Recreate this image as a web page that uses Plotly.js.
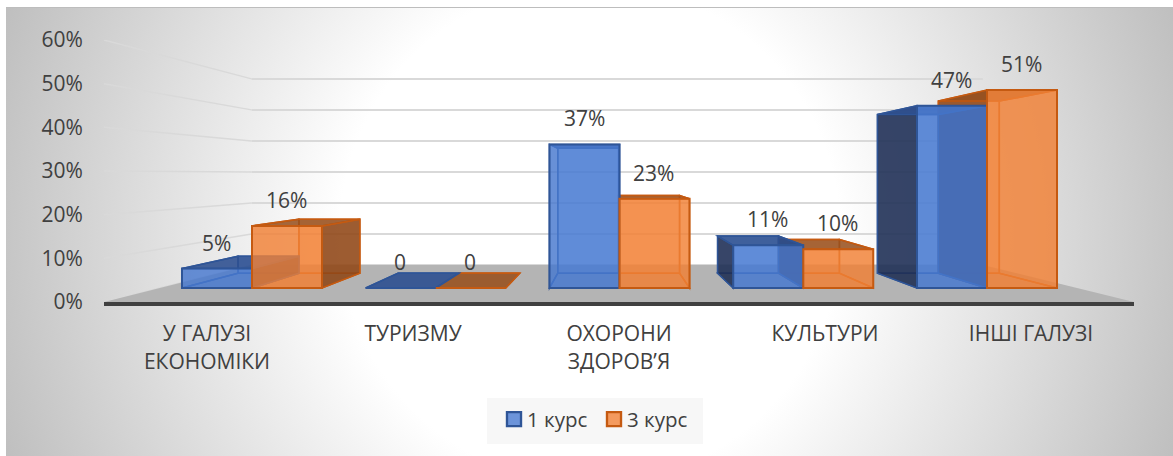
<!DOCTYPE html>
<html>
<head>
<meta charset="utf-8">
<script src="https://cdn.plot.ly/plotly-3.0.1.min.js"></script>
<style>
html,body{margin:0;padding:0;background:#fff;overflow:hidden}
#bg{position:absolute;left:6px;top:7px;width:1167px;height:449px;border-top:1px solid #bdbdbd;box-sizing:border-box;
background:radial-gradient(circle at 584px 225px,#fff 0,#fff 250px,#bfbfbf 625px)}
#chart{position:absolute;left:0;top:0;width:1173px;height:456px}
g.legendpoints path{transform:translate(27px,0) scale(1.17)}
</style>
</head>
<body>
<div id="bg"></div>
<div id="chart"></div>
<script>
const categories = ['У ГАЛУЗІ<br>ЕКОНОМІКИ','ТУРИЗМУ','ОХОРОНИ<br>ЗДОРОВ’Я','КУЛЬТУРИ','ІНШІ ГАЛУЗІ'];
const course1 = [5, 0, 37, 11, 47];
const course3 = [16, 0, 23, 10, 51];
const seriesNames = ['1 курс', '3 курс'];
const yTicks = [0, 10, 20, 30, 40, 50, 60];

const TEXT = '#404040';
const FONT = '"Open Sans", "Noto Sans", sans-serif';
const barWidth = 0.381;
const styles = [
  {edge:'#2f5597', front:'rgba(72,122,210,0.8)', back:'rgba(72,122,210,0.35)',
   outer:'rgba(30,45,80,0.85)', top:'rgba(45,80,145,0.88)', floor:'rgba(47,85,151,0.22)', inner:'rgba(30,45,80,0.12)', innerRight:'rgba(30,45,80,0.7)'},
  {edge:'#c55a11', front:'rgba(242,130,55,0.8)', back:'rgba(242,130,55,0.35)',
   outer:'rgba(140,70,25,0.85)', top:'rgba(150,80,30,0.85)', floor:'rgba(197,90,17,0.22)', inner:'rgba(197,90,17,0.12)', innerRight:'rgba(197,90,17,0.14)'}
];

// perspective: vanishing point in each axis pair, and depth of each plane
const vpMain = {x:1.97, y:29.3}, wallDepth = 0.71;
const vpBars = {x:1.965, y:29.4}, backDepth = 0.87;
const proj = (vp, x, y, d) => [vp.x + d*(x-vp.x), vp.y + d*(y-vp.y)];
const pathOf = pts => 'M' + pts.map(p => p[0] + ',' + p[1]).join('L') + 'Z';

const shapes = [];
// legend panel
shapes.push({type:'rect', xref:'paper', yref:'paper', layer:'below', x0:(487-104)/1030, x1:(703-104)/1030,
  y0:-(444-302)/262, y1:-(398-302)/262, fillcolor:'#f7f7f7', line:{width:0}});
// wall and side gridlines
const xL = -0.5, xR = 4.5;
yTicks.forEach(v => {
  const a = proj(vpMain, xL, v, 1), b = proj(vpMain, xL, v, wallDepth), c = proj(vpMain, xR, v, wallDepth);
  shapes.push({type:'path', xref:'x', yref:'y', layer:'below', path:'M'+a+'L'+b, line:{color:'#d9d9d9', width:1.5}});
  shapes.push({type:'path', xref:'x', yref:'y', layer:'below', path:'M'+b+'L'+c, line:{color:'#d9d9d9', width:2}});
});
// floor
shapes.push({type:'path', xref:'x', yref:'y', layer:'below',
  path:pathOf([proj(vpMain,xL,0,1), proj(vpMain,xL,0,wallDepth), proj(vpMain,xR,0,wallDepth), proj(vpMain,xR,0,1)]),
  fillcolor:'#b4b4b4', line:{width:0}});

// bar faces behind the front rectangles (3 курс first so 1 курс sits on top)
[1, 0].forEach(s => {
  const vals = [course1, course3][s];
  const st = styles[s];
  vals.forEach((v, i) => {
    const x0 = i + (s-1)*barWidth, x1 = x0 + barWidth;
    const P = (x, y, d) => proj(vpBars, x, y, d);
    const face = (pts, fill) => shapes.push({type:'path', xref:'x2', yref:'y2', layer:'below',
      path:pathOf(pts), fillcolor:fill, line:{color:st.edge, width:1.5}});
    face([P(x0,0,backDepth),P(x1,0,backDepth),P(x1,v,backDepth),P(x0,v,backDepth)], st.back);
    face([P(x0,0,1),P(x1,0,1),P(x1,0,backDepth),P(x0,0,backDepth)], st.floor);
    if (v > 0) {
      const leftOuter = x0 > vpBars.x, rightOuter = x1 < vpBars.x;
      face([P(x0,0,1),P(x0,v,1),P(x0,v,backDepth),P(x0,0,backDepth)], leftOuter ? st.outer : st.inner);
      face([P(x1,0,1),P(x1,v,1),P(x1,v,backDepth),P(x1,0,backDepth)], rightOuter ? st.outer : st.innerRight);
    }
    face([P(x0,v,1),P(x1,v,1),P(x1,v,backDepth),P(x0,v,backDepth)], st.top);
  });
});

const xs = categories.map((_, i) => i);
const traces = [course1, course3].map((vals, s) => ({
  type:'bar', name:seriesNames[s], x:xs, y:vals, xaxis:'x2', yaxis:'y2',
  marker:{color:styles[s].front, line:{color:styles[s].edge, width:2}},
  hoverinfo:'skip'
}));
// invisible trace that keeps the labelled axes alive
traces.unshift({type:'scatter', x:xs, y:xs.map(()=>0), mode:'none', showlegend:false, hoverinfo:'skip', xaxis:'x', yaxis:'y'});

const annotations = [];
[course1, course3].forEach((vals, s) => vals.forEach((v, i) => annotations.push({
  xref:'x2', yref:'y2', x:i + (s-0.5)*barWidth, y:v, yshift:26, xshift:s===1?-1:-0.5, yanchor:'middle', xanchor:'center',
  text: v === 0 ? '0' : v + '%', showarrow:false, font:{family:FONT, size:21, color:TEXT}
})));

const layout = {
  width:1173, height:456,
  margin:{l:104, r:39, t:40, b:154, pad:0},
  paper_bgcolor:'rgba(0,0,0,0)', plot_bgcolor:'rgba(0,0,0,0)',
  font:{family:FONT, color:TEXT, size:21},
  barmode:'group', bargap:0.238, bargroupgap:0,
  showlegend:true,
  legend:{orientation:'h', x:(487-104)/1030, y:-(398-302)/262 - 0.005, xanchor:'left', yanchor:'top',
    bgcolor:'rgba(0,0,0,0)', font:{family:FONT, size:20.5, color:TEXT}, itemwidth:30, entrywidth:55, entrywidthmode:'pixels', traceorder:'normal'},
  xaxis:{range:[xL,xR], tickmode:'array', tickvals:xs, ticktext:categories, showgrid:false, zeroline:false,
    showline:true, linecolor:'#404040', linewidth:4, ticks:'outside', ticklen:10, tickcolor:'rgba(0,0,0,0)',
    tickfont:{family:FONT, size:21, color:TEXT}, fixedrange:true},
  yaxis:{range:[0,60], tickmode:'array', tickvals:yTicks, ticktext:yTicks.map(v=>v+'%'), showgrid:false, zeroline:false,
    showline:false, ticks:'outside', ticklen:16, tickcolor:'rgba(0,0,0,0)', ticklabelshift:1.5, tickfont:{family:FONT, size:21, color:TEXT}, fixedrange:true},
  xaxis2:{overlaying:'x', range:[(104-252)/183.75,(1134-252)/183.75], visible:false, fixedrange:true},
  yaxis2:{overlaying:'y', range:[(288-302)/3.88,(288-40)/3.88], visible:false, fixedrange:true},
  shapes, annotations
};
Plotly.newPlot('chart', traces, layout, {displayModeBar:false, staticPlot:true});
</script>
</body>
</html>
